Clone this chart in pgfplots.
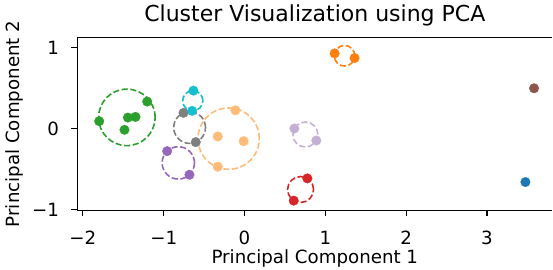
\documentclass[border=0pt]{standalone}
\usepackage{fontspec}
\setmainfont{DejaVu Sans}
\usepackage{pgfplots}
\pgfplotsset{compat=1.18}
\definecolor{cblue}{HTML}{1F77B4}
\definecolor{corange}{HTML}{FF7F0E}
\definecolor{cpeach}{HTML}{FFBB78}
\definecolor{cgreen}{HTML}{2CA02C}
\definecolor{cred}{HTML}{D62728}
\definecolor{cpurple}{HTML}{9467BD}
\definecolor{clav}{HTML}{C5B0D5}
\definecolor{cbrown}{HTML}{8C564B}
\definecolor{cgray}{HTML}{7F7F7F}
\definecolor{ccyan}{HTML}{17BECF}
\newcommand{\tickfont}{\fontsize{18.3}{22}\selectfont}
\pgfplotsset{
  pts/.style={only marks, mark=*, mark size=4.8bp, color=#1, mark options={fill=#1, draw=#1, line width=0.3bp}},
  ring/.style 2 args={only marks, mark=o, mark size=#2, color=#1, mark options={draw=#1, line width=1.6bp, dash pattern=on 6.1bp off 2.6bp}},
}
\begin{document}
\begin{tikzpicture}
\path (-77.3bp,-59.5bp) rectangle (475.7bp,210.5bp);
\begin{axis}[
  at={(0,0)}, anchor=south west,
  scale only axis, width=475.7bp, height=172.8bp,
  xmin=-2.07, xmax=3.81, ymin=-1.008, ymax=1.12,
  axis x line*=bottom, axis y line*=left,
  xtick={-2,-1,0,1,2,3}, xticklabels={\mbox{−2},\mbox{−1},\mbox{0},\mbox{1},\mbox{2},\mbox{3}},
  ytick={-1,0,1}, yticklabels={\mbox{−1},\mbox{0},\mbox{1}},
  tick align=outside, major tick length=5.9bp,
  every tick/.style={black, line width=1.2bp},
  axis line style={black, line width=1.2bp},
  xticklabel style={font=\tickfont, anchor=base, inner sep=0pt, yshift=-28.0bp},
  yticklabel style={font=\tickfont, anchor=base east, inner sep=0pt, xshift=-12.2bp, yshift=-6.7bp},
  xlabel={Principal Component 1}, ylabel={Principal Component 2},
  x label style={font=\tickfont, at={(axis description cs:0.5,-0.3096)}, anchor=base, inner sep=0pt},
  y label style={font=\tickfont, at={(axis description cs:-0.1205,0.5)}, anchor=base, inner sep=0pt},
  title={Cluster Visualization using PCA},
  title style={font=\fontsize{22.1}{26}\selectfont, at={(axis description cs:0.5,1.060)}, anchor=base, inner sep=0pt},
]
\draw[black, line width=1.2bp] (rel axis cs:0,1) -- (rel axis cs:1,1);
\addplot[pts=cblue] coordinates {(3.476,-0.660)};
\addplot[pts=corange] coordinates {(1.115,0.926) (1.362,0.869)};
\addplot[ring={corange}{10.3bp}] coordinates {(1.238,0.897)};
\addplot[pts=cpeach] coordinates {(-0.331,-0.098) (-0.331,-0.471) (-0.112,0.225) (-0.010,-0.156)};
\addplot[ring={cpeach}{30.7bp}] coordinates {(-0.196,-0.125)};
\addplot[pts=cgreen] coordinates {(-1.798,0.090) (-1.443,0.135) (-1.349,0.143) (-1.204,0.332) (-1.485,-0.016)};
\addplot[ring={cgreen}{28.3bp}] coordinates {(-1.456,0.137)};
\addplot[pts=cred] coordinates {(0.778,-0.615) (0.609,-0.889)};
\addplot[ring={cred}{13.0bp}] coordinates {(0.694,-0.752)};
\addplot[pts=cpurple] coordinates {(-0.957,-0.279) (-0.681,-0.570)};
\addplot[ring={cpurple}{16.2bp}] coordinates {(-0.819,-0.424)};
\addplot[pts=clav] coordinates {(0.617,0.0) (0.889,-0.148)};
\addplot[ring={clav}{12.5bp}] coordinates {(0.753,-0.074)};
\addplot[pts=cbrown] coordinates {(3.583,0.496)};
\addplot[pts=cgray] coordinates {(-0.755,0.193) (-0.603,-0.168)};
\addplot[ring={cgray}{15.9bp}] coordinates {(-0.679,0.012)};
\addplot[pts=ccyan] coordinates {(-0.632,0.467) (-0.648,0.217)};
\addplot[ring={ccyan}{10.1bp}] coordinates {(-0.640,0.342)};
\end{axis}
\end{tikzpicture}
\end{document}
